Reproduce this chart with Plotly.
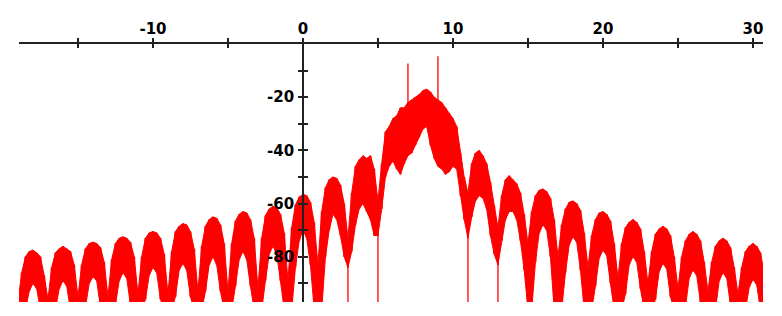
import numpy as np
import plotly.graph_objects as go

# sampling grid of the envelopes (x in axis units), 0.25 apart from -19 to 30.75
x_start, x_step, n_samples = -19.0, 0.25, 200

# upper envelope of the red trace (dB)
upper = [
    -97, -86, -80, -78, -77.5, -78.5, -80, -87,          # lobe -18
    -96, -84, -78.5, -77, -76, -77, -78, -83,            # lobe -16
    -95, -83, -77, -75, -74.5, -75, -76.5, -82,          # lobe -14
    -95, -81, -75, -73, -72.5, -73, -74.5, -80,          # lobe -12
    -94, -80, -73, -71, -70.5, -71, -73, -79,            # lobe -10
    -94, -78, -70.5, -68.5, -67.5, -68, -70.5, -77,      # lobe -8
    -93, -76, -68.5, -66, -65, -65.5, -68, -75,          # lobe -6
    -93, -75, -66.5, -64, -63, -63.5, -66, -73,          # lobe -4
    -92, -73, -64.5, -62, -61, -61.5, -64, -71,          # lobe -2
    -89, -69, -60.5, -57.5, -56.5, -57, -59.5, -67,      # lobe 0
    -83, -63, -54, -51, -50, -50.5, -53, -60,            # lobe 2
    -73, -56, -46, -43.5, -42, -43, -42, -47,            # lobe 4
    -59, -45, -33, -31, -28, -27, -24, -24, -22, -21, -20, -19,   # main lobe
    -17.5, -17, -18, -20, -21, -22, -24, -26, -28, -31, -41, -50,
    -56, -45, -41, -40, -42, -45, -52, -61,              # lobe 12
    -69, -57, -51, -49.5, -51, -52.5, -56, -64,          # lobe 14
    -75, -63, -57, -55, -54.5, -55.5, -58, -66,          # lobe 16
    -80, -68, -62, -59.5, -59, -60, -62.5, -71,          # lobe 18
    -84, -72, -66, -63.5, -63, -64, -66.5, -75,          # lobe 20
    -88, -75, -69, -67, -66, -67, -69.5, -78,            # lobe 22
    -90, -78, -71.5, -69.5, -68.5, -69.5, -72, -80,      # lobe 24
    -92, -80, -74, -71.5, -70.5, -71.5, -74, -82,        # lobe 26
    -93, -82, -76, -74, -73, -74, -76.5, -84,            # lobe 28
    -94, -84, -78, -76, -75, -76, -78.5, -86,            # lobe 30
]

# lower envelope of the red trace (dB)
lower = [
    -100, -100, -100, -93, -90, -92, -100, -100,          # lobe -18
    -100, -100, -100, -92, -89, -91, -100, -100,          # lobe -16
    -100, -100, -99, -90, -87.5, -89, -99, -100,          # lobe -14
    -100, -100, -98, -89, -86, -88, -98, -100,            # lobe -12
    -100, -100, -96, -87, -84, -86, -96, -100,            # lobe -10
    -100, -100, -95, -85, -82.5, -85, -95, -100,          # lobe -8
    -100, -100, -93, -83, -80, -83, -93, -100,            # lobe -6
    -100, -100, -91, -81, -78, -81, -91, -100,            # lobe -4
    -100, -100, -89, -79, -76, -79, -89, -100,            # lobe -2
    -100, -100, -84, -74, -70, -73, -83, -100,            # lobe 0
    -100, -100, -80, -70, -64, -66, -72, -80,             # lobe 2
    -84, -78, -68, -62, -60, -63, -66, -72,               # lobe 4
    -72, -62, -50, -46, -44, -47, -49, -45, -42, -41, -38, -35,   # main lobe
    -32, -31, -38, -43, -46, -47, -49, -48, -46, -47, -57, -66,
    -73, -65, -59, -57, -58, -62, -72, -79,               # lobe 12
    -83, -74, -66, -63, -63, -66, -74, -85,               # lobe 14
    -100, -100, -82, -71, -68, -70, -80, -100,            # lobe 16
    -100, -100, -86, -75.5, -72.5, -74.5, -85, -100,      # lobe 18
    -100, -100, -91, -80.5, -77.5, -79.5, -90, -100,      # lobe 20
    -100, -100, -94, -83, -80, -82, -92, -100,            # lobe 22
    -100, -100, -96, -85.5, -82.5, -84.5, -95, -100,      # lobe 24
    -100, -100, -99, -88, -85, -87, -97, -100,            # lobe 26
    -100, -100, -100, -89, -86, -88, -98, -100,           # lobe 28
    -100, -100, -100, -91.5, -88.5, -90.5, -100, -100,    # lobe 30
]

# isolated thin spikes (x, top, bottom)
spike_x = [7.0, 9.0, 3.0, 5.0, 11.0, 13.0, 15.0, 17.0]
spike_top = [-7.3, -4.6, -80, -70, -70, -80, -90, -90]
spike_bottom = [-25, -25, -100, -100, -100, -100, -100, -100]

# axis ticks
x_tick_vals = [-15, -10, -5, 0, 5, 10, 15, 20, 25, 30]
x_tick_text = ["", "-10", "", "0", "", "10", "", "20", "", "30"]
y_tick_vals = [-10, -20, -30, -40, -50, -60, -70, -80, -90]
y_tick_text = ["", "-20", "", "-40", "", "-60", "", "-80", ""]

x_range = [-18.93, 30.67]
y_range = [-97, 0]

assert len(upper) == n_samples and len(lower) == n_samples
xs = np.round(x_start + x_step * np.arange(n_samples), 3)

RED = "#ff0000"
fig = go.Figure()
# smooth filled band
fig.add_trace(go.Scatter(x=xs, y=lower, mode="lines", line=dict(color=RED, width=1),
                         hoverinfo="skip", showlegend=False))
fig.add_trace(go.Scatter(x=xs, y=upper, mode="lines", line=dict(color=RED, width=1),
                         fill="tonexty", fillcolor=RED, hoverinfo="skip", showlegend=False))
# vertical min/max bars, one per sample (gives the blocky column look)
bx, by = [], []
for xv, lo, hi in zip(xs, lower, upper):
    bx += [xv, xv, None]
    by += [lo, hi, None]
fig.add_trace(go.Scatter(x=bx, y=by, mode="lines", line=dict(color=RED, width=2),
                         hoverinfo="skip", showlegend=False))
# thin spikes
sx, sy = [], []
for xv, t, b in zip(spike_x, spike_top, spike_bottom):
    sx += [xv, xv, None]
    sy += [t, b, None]
fig.add_trace(go.Scatter(x=sx, y=sy, mode="lines", line=dict(color=RED, width=1.3),
                         hoverinfo="skip", showlegend=False))
fig.add_trace(go.Scatter(x=[], y=[], xaxis="x2", yaxis="y2", showlegend=False))

y_pos = (0 - x_range[0]) / (x_range[1] - x_range[0])
tickfont = dict(family="DejaVu Sans", size=15, color="black", weight="bold")
AX = "#222222"

fig.update_layout(
    width=782, height=316,
    margin=dict(l=19, r=19, t=44, b=14, pad=0),
    plot_bgcolor="white", paper_bgcolor="white",
    showlegend=False,
    xaxis=dict(range=x_range, side="top", anchor="y", showgrid=False, zeroline=False,
               showline=True, linecolor=AX, linewidth=1.5,
               ticks="outside", ticklen=4, tickwidth=1.5, tickcolor=AX,
               tickmode="array", tickvals=x_tick_vals, ticktext=x_tick_text,
               tickfont=tickfont, ticklabelstandoff=-2),
    xaxis2=dict(range=x_range, side="top", anchor="y", overlaying="x", showgrid=False,
                zeroline=False, showline=False, ticks="inside", ticklen=4, tickwidth=1.5,
                tickcolor=AX, tickmode="array", tickvals=x_tick_vals, showticklabels=False),
    yaxis=dict(range=y_range, anchor="free", position=y_pos, showgrid=False, zeroline=False,
               showline=True, linecolor=AX, linewidth=1.5,
               ticks="outside", ticklen=4, tickwidth=1.5, tickcolor=AX,
               tickmode="array", tickvals=y_tick_vals, ticktext=y_tick_text,
               tickfont=tickfont, ticklabelstandoff=1),
    yaxis2=dict(range=y_range, anchor="free", position=y_pos, overlaying="y", showgrid=False,
                zeroline=False, showline=False, ticks="inside", ticklen=4, tickwidth=1.5,
                tickcolor=AX, tickmode="array", tickvals=y_tick_vals, showticklabels=False),
)

fig.write_html("out.html")
